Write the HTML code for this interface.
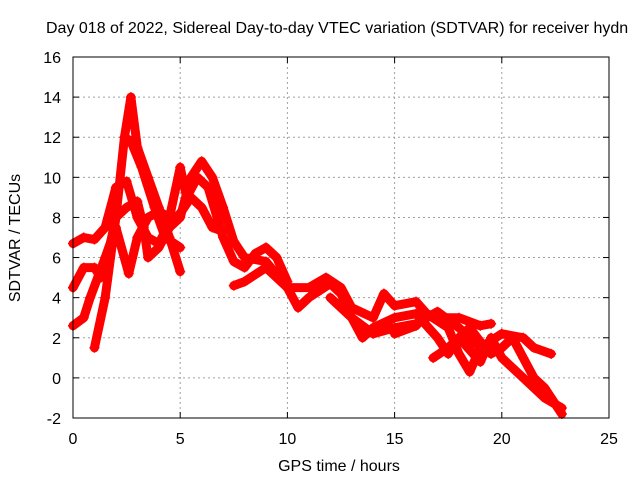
<!DOCTYPE html>
<html><head><meta charset="utf-8"><style>
body{margin:0;background:#fff}
svg{display:block;font-family:"Liberation Sans",sans-serif}
</style></head><body>
<svg id="c" width="640" height="480" viewBox="0 0 640 480">
<text x="46" y="33" font-size="16">Day 018 of 2022, Sidereal Day-to-day VTEC variation (SDTVAR) for receiver hydn</text>
<text x="339" y="471" font-size="16" text-anchor="middle">GPS time / hours</text>
<text transform="translate(20,238) rotate(-90)" font-size="16" text-anchor="middle">SDTVAR / TECUs</text>
<g id="grid"></g><g id="ticks"></g><g id="series"></g>
<rect x="73" y="57" width="536" height="361" fill="none" stroke="#000" stroke-width="1"/>
</svg>
<script>
const xTicks=[0,5,10,15,20,25];
const yTicks=[-2,0,2,4,6,8,10,12,14,16];
const trace1=[[1.0,1.5],[1.5,4],[2.0,8],[2.4,12],[2.7,14],[3.0,11.5],[3.5,10],[4.0,8.5],[4.5,7],[5.0,5.3]];
const trace2=[[2.4,12],[2.7,11.8],[3.2,10.5],[3.8,8.5],[4.3,7],[5.0,6.5]];
const trace3=[[0,6.7],[0.5,7],[1,6.9],[1.5,7.5],[2,9.5],[2.5,9.8],[3,8],[3.5,7],[4,6.7],[4.5,7.7],[5,8.2],[5.5,9],[6,8.5],[6.5,7.5],[7,7.3]];
const trace4=[[0,4.5],[0.5,5.5],[1,5.5],[1.3,5],[1.7,6.5],[2,8],[2.5,8.5],[3,8.8],[3.3,7.5],[3.5,6],[4,6.5],[4.5,7.5],[5,8],[5.5,10],[6,10.8],[6.5,10],[7,8.5],[7.5,6.8],[8,6],[9,5.8],[10,4.5]];
const trace5=[[0,2.6],[0.5,3],[0.8,4],[1.5,6],[2,7.5],[2.6,5.2],[3,7],[3.5,8],[4,8.3],[4.5,8],[5.0,10.5],[5.3,9],[5.8,10],[6.3,9.5],[7,7],[7.5,5.8],[8,5.5],[8.5,6.2],[9,6.5],[9.5,6],[10,4.8]];
const trace6=[[7.5,4.6],[8,4.8],[9,5.5],[10,4.5],[10.5,3.5],[11,4],[12,4.7],[12.5,4.2],[13,3],[13.5,2],[14,2.5],[15,3],[16,3.2],[17,2],[17.5,1.2],[18,2],[19,0.8],[19.5,2],[20,1],[21,0],[22,-1],[22.8,-1.5]];
const trace7=[[10,4.5],[11,4.5],[11.8,5],[12.5,4.5],[13,3.5],[14,3],[14.5,4.2],[15,3.6],[16,3.8],[16.5,3.2],[17,3],[18,3],[19,2.6],[19.5,2.7]];
const trace8=[[12,4],[13,3],[14,2.2],[15,2.5],[16,2.7],[17,3.3],[18,2.5],[19,1.5],[20,2.2],[21,2],[21.5,1.5],[22.3,1.2]];
const trace9=[[16.8,1],[17.5,1.5],[18.5,2.5],[19,1.8],[19.5,1.2],[20,1.5],[20.5,2],[21,1],[21.5,0],[22,-0.5],[22.8,-1.8]];
const trace10=[[15,2.2],[16,2.6],[16.5,3.2],[17.5,2.5],[18,1.2],[18.5,0.3],[19,1.5]];
const allTraces=[trace1,trace2,trace3,trace4,trace5,trace6,trace7,trace8,trace9,trace10];
const X0=73,X1=609,Y0=418,Y1=57;
const sx=v=>X0+(v-0)/25*(X1-X0);
const sy=v=>Y0-(v+2)/18*(Y0-Y1);
const NS="http://www.w3.org/2000/svg";
function mk(t,p,a){const e=document.createElementNS(NS,t);for(const k in a)e.setAttribute(k,a[k]);p.appendChild(e);return e;}
const grid=document.getElementById('grid'),ticks=document.getElementById('ticks'),ser=document.getElementById('series');
xTicks.forEach(t=>{const x=sx(t);
 if(t>0&&t<25){const g=mk('line',grid,{x1:x,x2:x,y1:Y1,y2:Y0,stroke:'#a0a0a0','stroke-dasharray':'2,3'});
 
 }
 mk('line',ticks,{x1:x,x2:x,y1:Y0,y2:Y0-6,stroke:'#000'});
 mk('line',ticks,{x1:x,x2:x,y1:Y1,y2:Y1+6,stroke:'#000'});
 const l=mk('text',ticks,{x:x,y:Y0+26,'font-size':16,'text-anchor':'middle'});l.textContent=t;
 
 });
yTicks.forEach(t=>{const y=sy(t);
 if(t>-2&&t<16){const g=mk('line',grid,{x1:X0,x2:X1,y1:y,y2:y,stroke:'#a0a0a0','stroke-dasharray':'2,3'});
 
 }
 mk('line',ticks,{x1:X0,x2:X0+6,y1:y,y2:y,stroke:'#000'});
 mk('line',ticks,{x1:X1,x2:X1-6,y1:y,y2:y,stroke:'#000'});
 const l=mk('text',ticks,{x:X0-12,y:y+6,'font-size':16,'text-anchor':'end'});l.textContent=t;
 
 });
allTraces.forEach((tr,i)=>{
 const pl=mk('polyline',ser,{points:tr.map(p=>sx(p[0])+','+sy(p[1])).join(' '),fill:'none',stroke:'#ff0000','stroke-width':9,'stroke-linejoin':'round','stroke-linecap':'round'});
 
 
 tr.forEach(p=>{const x=sx(p[0]),y=sy(p[1]);
  const m=mk('path',ser,{d:`M${x-5},${y}H${x+5}M${x},${y-5}V${y+5}`,stroke:'#ff0000','stroke-width':1.5});
  
  });
});
</script>
</body></html>
